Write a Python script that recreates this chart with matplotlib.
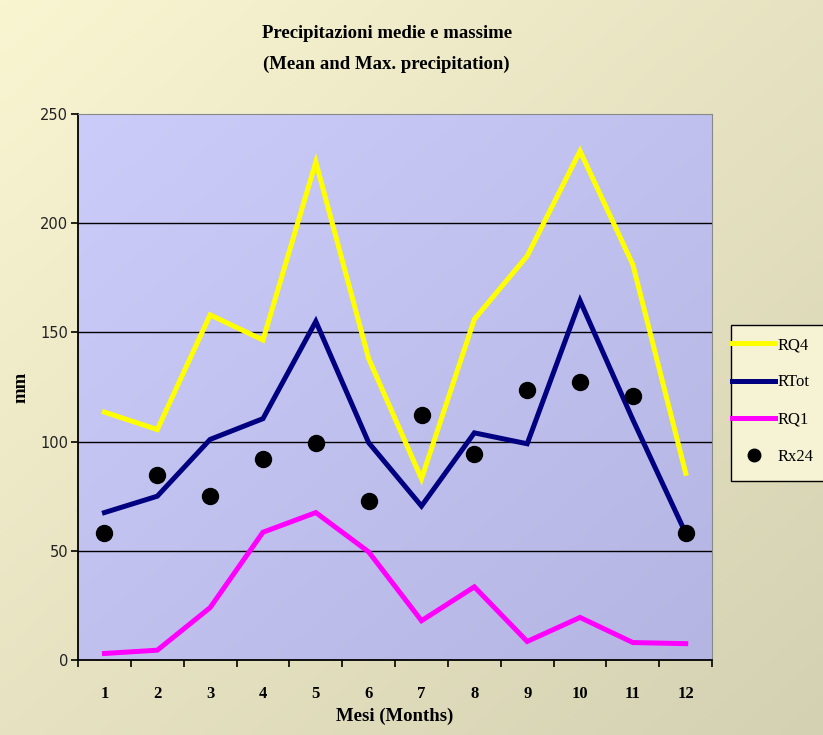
import numpy as np
import matplotlib.pyplot as plt
from matplotlib.lines import Line2D
from matplotlib.patches import Rectangle

# precipitazioni mensili (mm)
mesi = [1, 2, 3, 4, 5, 6, 7, 8, 9, 10, 11, 12]
rq4 = [113.5, 105.5, 158, 146.5, 228, 138, 83, 156, 185, 233, 181, 85.5]
rtot = [67.5, 75, 101, 110.5, 155, 99.5, 70.5, 104, 99, 164.5, 110, 58]
rq1 = [3, 4.5, 24, 58.5, 67.5, 49.5, 18, 33.5, 8.5, 19.5, 8, 7.5]
rx24 = [58, 84.5, 75, 92, 99.5, 73, 112, 94.5, 123.5, 127.5, 121, 58]

serif = "Liberation Serif"

fig = plt.figure(figsize=(8.23, 7.35), dpi=100)

# sfondo della figura: sfumatura crema -> beige
bg = fig.add_axes([0, 0, 1, 1], zorder=-10)
xx, yy = np.meshgrid(np.linspace(0, 1, 200), np.linspace(0, 1, 200))
t = (xx + yy) / 2
c0 = np.array([0.98, 0.96, 0.82])
c1 = np.array([0.83, 0.82, 0.70])
img = c0[None, None, :] * (1 - t[..., None]) + c1[None, None, :] * t[..., None]
bg.imshow(img, extent=[0, 1, 0, 1], aspect="auto")
bg.set_xlim(0, 1)
bg.set_ylim(0, 1)
bg.axis("off")

# riquadro della legenda
bg.add_patch(Rectangle((731 / 823, 1 - 481 / 735), 0.2, 156 / 735,
                       facecolor="#f6f2d4", edgecolor="black", lw=1.0))

ax = fig.add_axes([0.0948, 0.102, 0.7705, 0.743])

# sfondo dell'area del grafico: sfumatura lavanda
xx, yy = np.meshgrid(np.linspace(0, 1, 200), np.linspace(0, 1, 200))
t = (xx + yy) / 2
p0 = np.array([0.80, 0.80, 0.98])
p1 = np.array([0.71, 0.71, 0.89])
pimg = p0[None, None, :] * (1 - t[..., None]) + p1[None, None, :] * t[..., None]
ax.imshow(pimg, extent=[0.5, 12.5, 0, 250], aspect="auto", zorder=0)

for v in [50, 100, 150, 200]:
    ax.axhline(v, color="black", lw=1.0, zorder=1)

ax.plot(mesi, rq4, color="#ffff00", lw=3.6, zorder=3, solid_joinstyle="miter")
ax.plot(mesi, rtot, color="#000080", lw=3.6, zorder=3, solid_joinstyle="miter")
ax.plot(mesi, rq1, color="#ff00ff", lw=3.6, zorder=3, solid_joinstyle="miter")
ax.plot(mesi, rx24, "o", color="black", ms=11.5, zorder=4, linestyle="none")

ax.set_xlim(0.5, 12.5)
ax.set_ylim(0, 250)
ax.set_yticks([0, 50, 100, 150, 200, 250])
ax.set_xticks(mesi)
ax.set_xticks(np.arange(0.5, 12.6, 1), minor=True)
ax.tick_params(axis="x", which="major", length=0, pad=19)
ax.tick_params(axis="x", which="minor", length=5, width=1.2, direction="out")
ax.tick_params(axis="y", length=5, width=1.2, direction="out", pad=2)

for lab in ax.get_xticklabels():
    lab.set_fontfamily(serif)
    lab.set_fontweight("bold")
    lab.set_fontsize(12)
for lab in ax.get_yticklabels():
    lab.set_fontfamily("DejaVu Sans")
    lab.set_fontsize(10.5)
    lab.set_color("#222222")

ax.spines["left"].set_color("black")
ax.spines["left"].set_linewidth(1.3)
ax.spines["bottom"].set_color("black")
ax.spines["bottom"].set_linewidth(1.3)
ax.spines["top"].set_color("#888888")
ax.spines["right"].set_color("#888888")

ax.set_xlabel("Mesi (Months)", fontfamily=serif, fontweight="bold", fontsize=13.5, labelpad=4)
ax.set_ylabel("mm", fontfamily=serif, fontweight="bold", fontsize=13.5, labelpad=8)

fig.text(0.47, 0.955, "Precipitazioni medie e massime", ha="center", va="center",
         fontfamily=serif, fontweight="bold", fontsize=13.5)
fig.text(0.47, 0.912, "(Mean and Max. precipitation)", ha="center", va="center",
         fontfamily=serif, fontweight="bold", fontsize=13.5)

handles = [
    Line2D([], [], color="#ffff00", lw=3.6),
    Line2D([], [], color="#000080", lw=3.6),
    Line2D([], [], color="#ff00ff", lw=3.6),
    Line2D([], [], color="black", marker="o", ms=9, linestyle="none"),
]
leg = fig.legend(handles, ["RQ4", "RTot", "RQ1", "Rx24"], loc="upper left",
                 bbox_to_anchor=(732 / 823, 1 - 337 / 735), frameon=False,
                 prop={"family": serif, "size": 12}, labelspacing=1.28,
                 handlelength=2.6, handletextpad=0.15, borderpad=0,
                 borderaxespad=0)

plt.savefig("out.png", dpi=100)
